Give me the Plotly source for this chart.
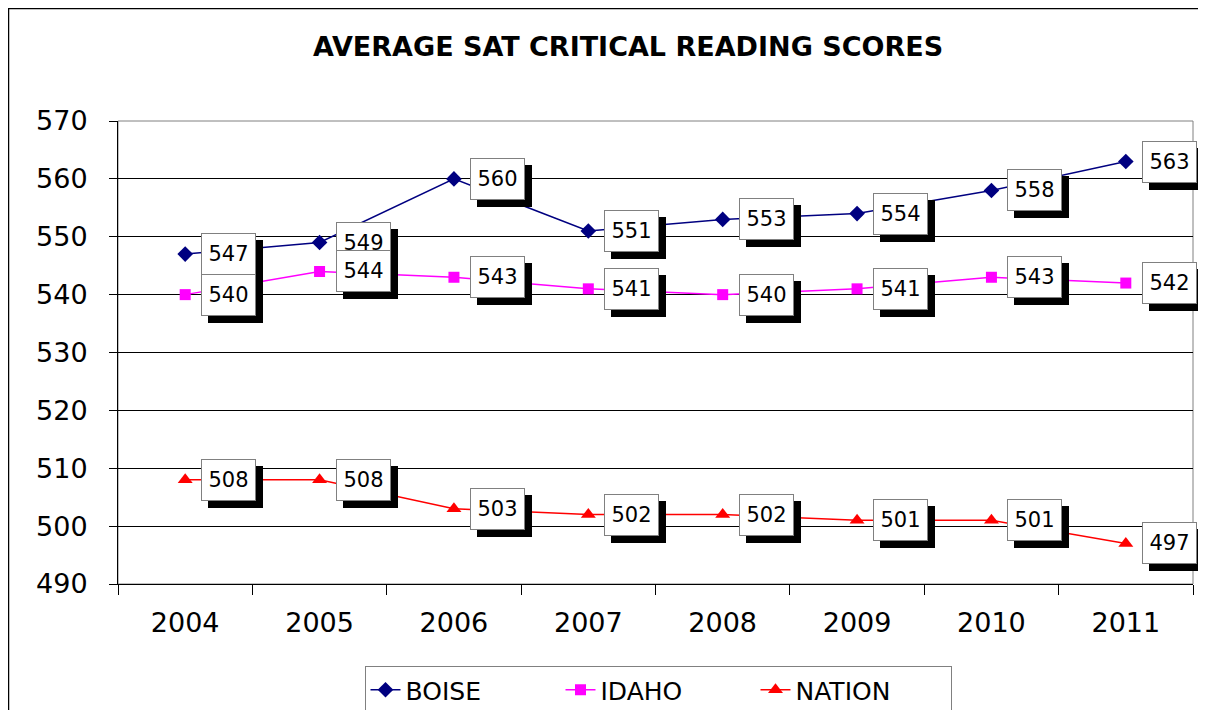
import plotly.graph_objects as go

years = ["2004", "2005", "2006", "2007", "2008", "2009", "2010", "2011"]
boise = [547, 549, 560, 551, 553, 554, 558, 563]
idaho = [540, 544, 543, 541, 540, 541, 543, 542]
nation = [508, 508, 503, 502, 502, 501, 501, 497]
y_ticks = [490, 500, 510, 520, 530, 540, 550, 560, 570]

FONT = "DejaVu Sans, Liberation Sans, Arial, sans-serif"

W, H = 1198, 702
ML, MT, MR, MB = 110, 113, 13, 126
PW = W - ML - MR
PH = H - MT - MB

fig = go.Figure()
series = [
    ("BOISE", boise, "#000080", "diamond", 12),
    ("IDAHO", idaho, "#FF00FF", "square", 11),
    ("NATION", nation, "#FF0000", "triangle-up", 13),
]
for name, vals, col, sym, sz in series:
    fig.add_trace(go.Scatter(
        x=years, y=vals, name=name, mode="lines+markers",
        line=dict(color=col, width=1.5),
        marker=dict(symbol=sym, size=sz, color=col),
        cliponaxis=False,
    ))

annotations = []
# shadows first
for name, vals, col, sym, sz in series:
    for i, v in enumerate(vals):
        annotations.append(dict(
            x=i, y=v, xref="x", yref="y", text=" ", showarrow=False,
            xanchor="left", yanchor="middle", xshift=23, yshift=-7,
            width=53, height=40, bgcolor="#000000", bordercolor="#000000",
            borderwidth=1, borderpad=0, font=dict(size=20, family=FONT)))
for name, vals, col, sym, sz in series:
    for i, v in enumerate(vals):
        annotations.append(dict(
            x=i, y=v, xref="x", yref="y", text=str(v), showarrow=False,
            xanchor="left", yanchor="middle", xshift=16,
            width=53, height=40, bgcolor="#FFFFFF", bordercolor="#808080",
            borderwidth=1, borderpad=0, font=dict(size=21, family=FONT, color="#000000")))

fig.update_layout(
    width=W, height=H,
    margin=dict(l=ML, r=MR, t=MT, b=MB, autoexpand=False),
    paper_bgcolor="#FFFFFF", plot_bgcolor="#FFFFFF",
    font=dict(family=FONT, color="#000000"),
    title=dict(text="<b>AVERAGE SAT CRITICAL READING SCORES</b>",
               x=620 / W, xanchor="center", y=1 - 39 / H, yanchor="middle",
               font=dict(size=27, family=FONT, color="#000000")),
    showlegend=True,
    legend=dict(orientation="h", x=(650 - ML) / PW, xanchor="center",
                y=-(658 - 576) / PH, yanchor="top",
                bordercolor="#808080", borderwidth=1, bgcolor="#FFFFFF",
                font=dict(size=25, family=FONT, color="#000000"),
                entrywidth=150, entrywidthmode="pixels"),
    annotations=annotations,
    shapes=[
        dict(type="rect", xref="paper", yref="paper", x0=0, x1=1, y0=0, y1=1,
             line=dict(color="#808080", width=1), layer="below"),
        dict(type="line", xref="paper", yref="paper", x0=-ML / PW, x1=1.2,
             y0=1 + MT / PH, y1=1 + MT / PH, line=dict(color="#000000", width=2.5)),
        dict(type="line", xref="paper", yref="paper", x0=-ML / PW, x1=-ML / PW,
             y0=1 + MT / PH, y1=-0.4, line=dict(color="#000000", width=2.5)),
    ],
)
fig.update_xaxes(
    type="category", categoryorder="array", categoryarray=years,
    showgrid=False, showline=True, linecolor="#000000", linewidth=1,
    ticks="outside", tickson="boundaries", ticklen=10, tickcolor="#000000",
    tickfont=dict(size=27, family=FONT, color="#000000"), ticklabelstandoff=15,
    range=[-0.5, 7.5], automargin=False,
)
fig.update_yaxes(
    range=[490, 570], tickvals=y_ticks, showgrid=True, gridcolor="#000000", gridwidth=1,
    showline=True, linecolor="#000000", linewidth=1, zeroline=False,
    ticks="outside", ticklen=8, tickcolor="#000000",
    tickfont=dict(size=27, family=FONT, color="#000000"), ticklabelstandoff=16,
    automargin=False,
)

fig.write_html("out.html")
